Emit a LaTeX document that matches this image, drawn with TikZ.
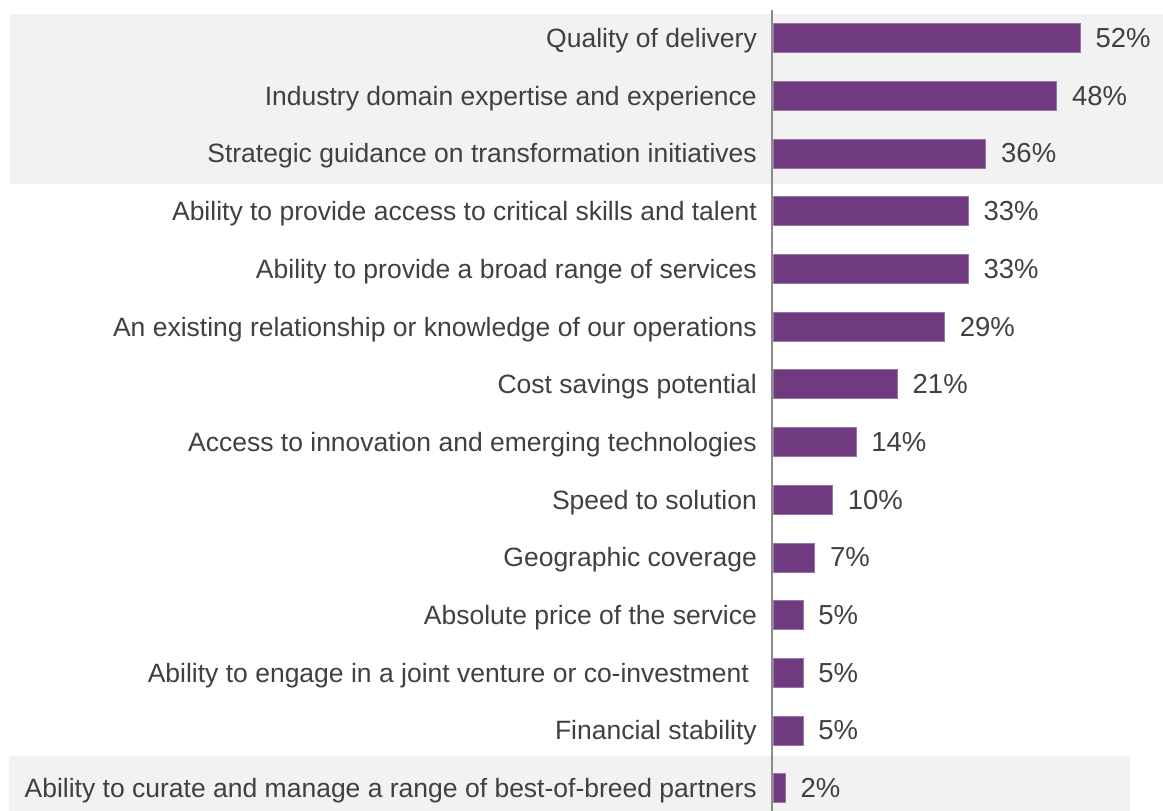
\documentclass[tikz,border=0pt]{standalone}
\usepackage{fontspec}
\setmainfont{Liberation Sans}
\usetikzlibrary{positioning}
\definecolor{barpurple}{HTML}{703A80}
\definecolor{bandgrey}{HTML}{F2F2F2}
\definecolor{textgrey}{HTML}{404040}
\definecolor{axisgrey}{HTML}{8C8C8C}
\begin{document}
\begin{tikzpicture}
  [x=1pt,y=-1pt,
  every node/.style={font=\fontsize{26.5}{30}\selectfont,text=textgrey,inner sep=0pt,text height=19pt,text depth=0pt},
  band/.style={fill=bandgrey},
  bar/.style={fill=barpurple,draw=barpurple!70!white,line width=0.6pt,minimum height=29pt,anchor=west},
  axis/.style={draw=axisgrey,line width=1.5pt}]
\useasboundingbox (0,0) rectangle (1163,811);
\fill[band] (10,14) rectangle (1163,184);
\fill[band] (9,756) rectangle (1130,811);
\foreach \v/\t [count=\i] in {
  52/Quality of delivery,
  48/Industry domain expertise and experience,
  36/Strategic guidance on transformation initiatives,
  33/Ability to provide access to critical skills and talent,
  33/Ability to provide a broad range of services,
  29/An existing relationship or knowledge of our operations,
  21/Cost savings potential,
  14/Access to innovation and emerging technologies,
  10/Speed to solution,
  7/Geographic coverage,
  5/Absolute price of the service,
  5/Ability to engage in a joint venture or co-investment\hspace*{8pt},
  5/Financial stability,
  2/Ability to curate and manage a range of best-of-breed partners}
{
  \pgfmathsetmacro{\y}{38+57.7*(\i-1)}
  \node[anchor=east] (l\i) at (757,\y) {\t};
  \node[bar,minimum width=5.9*\v pt] (b\i) at (773,\y) {};
  \node[right=15pt of b\i,font=\fontsize{27.5}{30}\selectfont] (v\i) {\v\%};
}
\coordinate (top) at (772,10);
\coordinate (bottom) at (772,811);
\draw[axis] (top) -- (bottom);
\end{tikzpicture}
\end{document}
